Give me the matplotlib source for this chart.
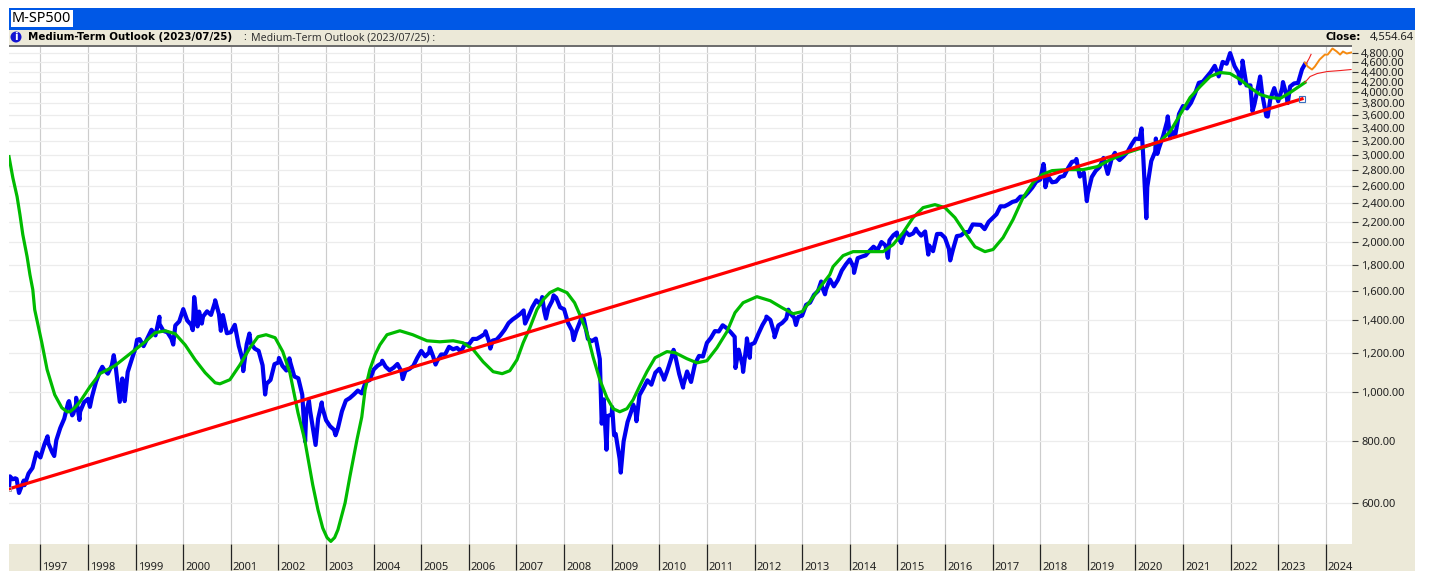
import matplotlib
matplotlib.use('Agg')
import matplotlib.pyplot as plt
from matplotlib.patches import Rectangle, Circle
from matplotlib.ticker import NullLocator
from matplotlib.transforms import ScaledTranslation
import numpy as np

W, H = 1429, 571

# month-end closes, starting May 1996
monthly_close = [
    669, 670, 640, 651, 687, 705, 757, 740,
    786, 790, 757, 801, 848, 885, 954, 899, 947, 914, 955, 970,
    980, 1049, 1101, 1111, 1090, 1133, 1120, 957, 1017, 1098, 1163, 1229,
    1279, 1238, 1286, 1335, 1301, 1372, 1328, 1320, 1282, 1362, 1388, 1469,
    1394, 1366, 1498, 1452, 1420, 1454, 1430, 1517, 1436, 1429, 1314, 1320,
    1366, 1239, 1160, 1249, 1255, 1224, 1211, 1133, 1040, 1059, 1139, 1148,
    1130, 1106, 1147, 1076, 1067, 989, 911, 916, 815, 885, 936, 879,
    855, 841, 848, 916, 963, 974, 990, 1008, 995, 1050, 1058, 1111,
    1131, 1144, 1126, 1107, 1120, 1140, 1101, 1104, 1114, 1130, 1173, 1211,
    1181, 1203, 1180, 1156, 1191, 1191, 1234, 1220, 1228, 1207, 1249, 1248,
    1280, 1280, 1294, 1310, 1270, 1270, 1276, 1303, 1335, 1377, 1400, 1418,
    1438, 1406, 1420, 1482, 1530, 1503, 1455, 1473, 1526, 1549, 1481, 1468,
    1378, 1330, 1322, 1385, 1400, 1280, 1267, 1282, 1166, 968, 896, 903,
    825, 735, 797, 872, 919, 919, 987, 1020, 1057, 1036, 1095, 1115,
    1073, 1104, 1169, 1186, 1089, 1030, 1101, 1049, 1141, 1183, 1180, 1257,
    1286, 1327, 1325, 1363, 1345, 1320, 1292, 1218, 1131, 1253, 1246, 1257,
    1312, 1365, 1408, 1397, 1310, 1362, 1379, 1406, 1440, 1412, 1416, 1426,
    1498, 1514, 1569, 1597, 1630, 1606, 1685, 1632, 1681, 1756, 1805, 1848,
    1782, 1859, 1872, 1883, 1923, 1960, 1930, 2003, 1972, 2018, 2067, 2058,
    1994, 2104, 2067, 2085, 2107, 2063, 2103, 1972, 1920, 2079, 2080, 2043,
    1940, 1932, 2059, 2065, 2096, 2098, 2173, 2170, 2168, 2126, 2198, 2238,
    2278, 2363, 2362, 2384, 2411, 2423, 2470, 2471, 2519, 2575, 2647, 2673,
    2823, 2713, 2640, 2648, 2705, 2718, 2816, 2901, 2913, 2711, 2760, 2506,
    2704, 2784, 2834, 2945, 2752, 2941, 2980, 2926, 2976, 3037, 3140, 3230,
    3225, 2954, 2584, 2912, 3044, 3100, 3271, 3500, 3363, 3269, 3621, 3756,
    3714, 3811, 3972, 4181, 4204, 4297, 4395, 4522, 4307, 4605, 4567, 4766,
    4515, 4373, 4530, 4131, 4132, 3785, 4130, 3955, 3585, 3871, 4080, 3839,
    4076, 3970, 4109, 4169, 4179, 4450,
]
# swings between the month ends
swing_dates = [
    1996.34, 1996.36, 1996.47, 1996.55, 1996.65, 1997.15, 1997.29, 1997.60, 1997.69, 1997.75,
    1997.82, 1998.04, 1998.30, 1998.54, 1998.72, 1998.77, 1999.03, 1999.50, 1999.79, 2000.20,
    2000.23, 2000.30, 2000.39, 2000.67, 2000.79, 2001.26, 2001.39, 2001.72, 2002.01, 2002.23,
    2002.56, 2002.64, 2002.78, 2002.91, 2003.20, 2004.18, 2004.61, 2005.18, 2005.30, 2006.35,
    2006.45, 2007.15, 2007.18, 2007.54, 2007.62, 2007.78, 2008.20, 2008.38, 2008.79, 2008.89,
    2009.01, 2009.05, 2009.19, 2009.45, 2009.52, 2010.10, 2010.30, 2010.50, 2010.65, 2011.33,
    2011.60, 2011.76, 2011.84, 2011.90, 2012.25, 2012.42, 2012.71, 2012.87, 2013.40, 2013.48,
    2014.09, 2014.80, 2014.99, 2015.39, 2015.65, 2016.11, 2018.07, 2018.11, 2018.76, 2018.98,
    2019.33, 2019.42, 2019.57, 2020.13, 2020.23, 2020.43, 2020.46, 2020.68, 2020.73, 2021.99,
    2022.20, 2022.25, 2022.46, 2022.62, 2022.78, 2023.10, 2023.20, 2023.56,
]
swing_values = [
    645, 678, 672, 628, 665, 816, 745, 960, 905, 975,
    880, 935, 1125, 1187, 1066, 960, 1275, 1418, 1247, 1333,
    1553, 1356, 1374, 1530, 1329, 1103, 1312, 990, 1172, 1170,
    797, 962, 784, 954, 820, 1157, 1063, 1229, 1137, 1326,
    1224, 1460, 1374, 1553, 1406, 1565, 1273, 1426, 865, 767,
    934, 820, 690, 945, 875, 1060, 1217, 1022, 1060, 1363,
    1119, 1099, 1283, 1173, 1419, 1290, 1465, 1365, 1669, 1573,
    1737, 1862, 2093, 2130, 1890, 1840, 2873, 2581, 2940, 2420,
    2954, 2744, 3025, 3386, 2237, 3232, 3010, 3580, 3237, 4797,
    4170, 4631, 3667, 4305, 3577, 4195, 3808, 4555,
]

green_dates = [
    1996.34, 1996.42, 1996.51, 1996.57, 1996.63, 1996.72, 1996.78, 1996.84, 1996.88, 1997.03,
    1997.14, 1997.30, 1997.45, 1997.56, 1997.62, 1997.72, 1997.83, 1998.04, 1998.25, 1998.56,
    1998.88, 1999.20, 1999.41, 1999.62, 1999.83, 2000.04, 2000.25, 2000.46, 2000.67, 2000.77,
    2000.98, 2001.19, 2001.40, 2001.57, 2001.74, 2001.93, 2002.09, 2002.24, 2002.41, 2002.55,
    2002.72, 2002.83, 2002.93, 2003.02, 2003.10, 2003.18, 2003.25, 2003.40, 2003.50, 2003.65,
    2003.75, 2003.82, 2003.92, 2004.03, 2004.13, 2004.28, 2004.55, 2004.82, 2005.12, 2005.39,
    2005.67, 2005.88, 2006.09, 2006.30, 2006.51, 2006.70, 2006.86, 2007.01, 2007.14, 2007.28,
    2007.43, 2007.56, 2007.70, 2007.87, 2008.06, 2008.22, 2008.33, 2008.48, 2008.61, 2008.75,
    2008.90, 2009.03, 2009.17, 2009.32, 2009.45, 2009.60, 2009.74, 2009.91, 2010.16, 2010.33,
    2010.58, 2010.79, 2011.00, 2011.21, 2011.42, 2011.59, 2011.76, 2012.05, 2012.33, 2012.58,
    2012.81, 2013.00, 2013.16, 2013.37, 2013.58, 2013.65, 2013.86, 2014.07, 2014.36, 2014.70,
    2014.91, 2015.12, 2015.33, 2015.54, 2015.79, 2016.00, 2016.21, 2016.42, 2016.63, 2016.84,
    2017.01, 2017.22, 2017.43, 2017.64, 2017.85, 2018.04, 2018.25, 2018.56, 2018.90, 2019.20,
    2019.47, 2019.83, 2020.16, 2020.52, 2020.73, 2020.94, 2021.15, 2021.36, 2021.57, 2021.78,
    2021.99, 2022.20, 2022.41, 2022.62, 2022.83, 2023.04, 2023.25, 2023.56,
]
green_values = [
    2972, 2698, 2470, 2273, 2073, 1872, 1722, 1607, 1465, 1257,
    1111, 989, 931, 914, 914, 931, 957, 1026, 1090, 1130,
    1195, 1263, 1317, 1329, 1311, 1245, 1162, 1095, 1045, 1040,
    1060, 1135, 1228, 1293, 1305, 1287, 1207, 1095, 910, 804,
    652, 581, 534, 511, 502, 511, 530, 600, 677, 804,
    892, 1012, 1111, 1190, 1245, 1305, 1329, 1305, 1269, 1263,
    1269, 1257, 1218, 1151, 1100, 1090, 1105, 1162, 1257, 1347,
    1466, 1534, 1585, 1614, 1585, 1513, 1432, 1317, 1176, 1060,
    975, 927, 914, 927, 966, 1035, 1100, 1173, 1207, 1201,
    1168, 1146, 1157, 1228, 1323, 1445, 1513, 1556, 1527, 1478,
    1438, 1452, 1520, 1622, 1722, 1788, 1881, 1916, 1916, 1916,
    1979, 2092, 2242, 2348, 2381, 2348, 2242, 2092, 1960, 1916,
    1935, 2044, 2222, 2459, 2636, 2735, 2786, 2799, 2799, 2838,
    2931, 3028, 3100, 3187, 3339, 3610, 3907, 4110, 4305, 4385,
    4365, 4245, 4090, 3961, 3907, 3889, 3997, 4186,
]

trend_dates = [1996.34, 2023.50]
trend_values = [640, 3883]

# forecast tails on the right
orange_dates = [2023.56, 2023.62, 2023.71, 2023.77, 2023.87, 2023.98, 2024.04, 2024.14, 2024.23, 2024.30, 2024.36, 2024.44, 2024.53]
orange_values = [4592, 4508, 4446, 4508, 4656, 4764, 4764, 4900, 4832, 4764, 4832, 4787, 4810]
thin_red_dates = [2023.56, 2023.67, 2023.82, 2024.03, 2024.30, 2024.53]
thin_red_values = [4186, 4305, 4365, 4405, 4425, 4446]
spike_dates = [2023.58, 2023.65, 2023.69]
spike_values = [4552, 4680, 4769]

price_ticks = [600, 800, 1000, 1200, 1400, 1600, 1800, 2000, 2200, 2400, 2600, 2800, 3000,
               3200, 3400, 3600, 3800, 4000, 4200, 4400, 4600, 4800]
years = list(range(1997, 2025))

BEIGE = '#ece9d8'
plt.rcParams['font.family'] = 'Noto Sans'


def fig_rect(fig, x0, y0, x1, y1, color):
    fig.patches.append(Rectangle((x0 / W, 1 - y1 / H), (x1 - x0) / W, (y1 - y0) / H,
                                 transform=fig.transFigure, facecolor=color, edgecolor='none'))


def fig_text(fig, x, y, s, **kw):
    fig.text(x / W, 1 - y / H, s, va='center', ha=kw.pop('ha', 'left'), **kw)


fig = plt.figure(figsize=(W / 100, H / 100), dpi=100, facecolor='white')

# panels around the plot
fig_rect(fig, 9, 8, 1415, 30, '#0058e6')
fig_rect(fig, 9, 30, 1415, 46, BEIGE)
fig_rect(fig, 1352, 46, 1415, 571, BEIGE)
fig_rect(fig, 9, 544, 1415, 571, BEIGE)
fig_rect(fig, 9, 45.5, 1352, 47, '#6e6e6e')

ax = fig.add_axes([9 / W, 1 - 544 / H, (1352 - 9) / W, (544 - 47) / H])
ax.set_zorder(3)
ax.set_yscale('log')
ax.set_xlim(1996.34, 2024.55)
ax.set_ylim(496, 4934)
for s in ax.spines.values():
    s.set_visible(False)

ax.yaxis.tick_right()
ax.yaxis.set_minor_locator(NullLocator())
ax.set_yticks(price_ticks)
ax.set_yticklabels([f'{p:,.2f}' for p in price_ticks], fontsize=8.0, color='#222222')
ax.tick_params(axis='y', length=4, width=0.8, pad=2.5, color='#333333')
ax.set_xticks(years)
ax.set_xticklabels([str(y) for y in years], fontsize=8.0, color='#222222')
ax.tick_params(axis='x', length=19, width=0.9, pad=-6, color='#222222')
for lbl in ax.get_xticklabels():
    lbl.set_ha('left')
    lbl.set_transform(lbl.get_transform() + ScaledTranslation(2 / 100, 0, fig.dpi_scale_trans))
ax.grid(axis='y', color='#ececec', lw=0.9)
ax.grid(axis='x', color='#cccccc', lw=0.85)
ax.set_axisbelow(True)

month_dates = 1996 + 4 / 12 + (np.arange(len(monthly_close)) + 1) / 12
blue_t = np.concatenate([month_dates, swing_dates])
blue_v = np.concatenate([monthly_close, swing_values])
order = np.argsort(blue_t)

ax.plot(blue_t[order], blue_v[order], color='#0000f0', lw=3.0, solid_joinstyle='round')
ax.plot(green_dates, green_values, color='#00bb00', lw=2.3, solid_joinstyle='round')
ax.plot(trend_dates, trend_values, color='#ff0000', lw=2.3)
ax.plot(trend_dates[1], trend_values[1], marker='s', ms=5, mfc='none', mec='#3a6fc0', mew=0.8)
ax.plot(trend_dates[0], trend_values[0], marker='s', ms=2.5, mfc='none', mec='#999999', mew=0.6)
ax.plot(thin_red_dates, thin_red_values, color='#f02020', lw=0.8)
ax.plot(spike_dates, spike_values, color='#f02020', lw=0.8)
ax.plot(orange_dates, orange_values, color='#f58a10', lw=1.4)

# header strip
fig_text(fig, 12, 18.5, 'M-SP500', fontsize=10.4, color='black',
         bbox=dict(facecolor='white', edgecolor='none', pad=1.0))
fig.patches.append(Circle((16, H - 37), 5.5, transform=None, facecolor='#1414d2', edgecolor='none'))
fig_text(fig, 16, 37, 'i', fontsize=7.5, color='white', fontweight='bold', ha='center', family='DejaVu Sans')
fig_text(fig, 28, 37.5, 'Medium-Term Outlook (2023/07/25)', fontsize=7.4, fontweight='bold',
         color='black', family='DejaVu Sans')
fig_text(fig, 243, 37.5, ':', fontsize=7.6, color='#222222')
fig_text(fig, 251, 37.5, 'Medium-Term Outlook (2023/07/25) :', fontsize=7.6, color='#333333')
fig_text(fig, 1326, 37.5, 'Close:', fontsize=7.4, fontweight='bold', color='black', family='DejaVu Sans')
fig_text(fig, 1370, 37.5, '4,554.64', fontsize=8.0, color='#222222')

fig.savefig('out.png', dpi=100)
